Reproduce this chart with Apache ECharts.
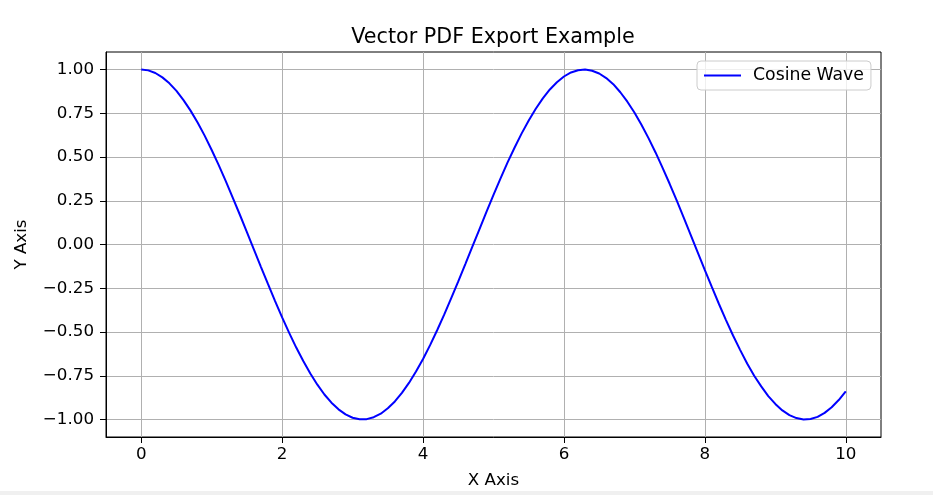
<!DOCTYPE html>
<html>
<head>
<meta charset="utf-8">
<script src="https://cdn.jsdelivr.net/npm/echarts@6/dist/echarts.min.js"></script>
<style>html,body{margin:0;padding:0;background:#fff}#c{width:933px;height:495px}</style>
</head>
<body>
<div id="c"></div>
<script>
var xValues = [0.0,0.1,0.2,0.3,0.4,0.5,0.6,0.7,0.8,0.9,1.0,1.1,1.2,1.3,1.4,1.5,1.6,1.7,1.8,1.9,2.0,2.1,2.2,2.3,2.4,2.5,2.6,2.7,2.8,2.9,3.0,3.1,3.2,3.3,3.4,3.5,3.6,3.7,3.8,3.9,4.0,4.1,4.2,4.3,4.4,4.5,4.6,4.7,4.8,4.9,5.0,5.1,5.2,5.3,5.4,5.5,5.6,5.7,5.8,5.9,6.0,6.1,6.2,6.3,6.4,6.5,6.6,6.7,6.8,6.9,7.0,7.1,7.2,7.3,7.4,7.5,7.6,7.7,7.8,7.9,8.0,8.1,8.2,8.3,8.4,8.5,8.6,8.7,8.8,8.9,9.0,9.1,9.2,9.3,9.4,9.5,9.6,9.7,9.8,9.9,10.0];
var cosineWave = [1.000,0.995,0.980,0.955,0.921,0.878,0.825,0.765,0.697,0.622,0.540,0.454,0.362,0.267,0.170,0.071,-0.029,-0.129,-0.227,-0.323,-0.416,-0.505,-0.589,-0.666,-0.737,-0.801,-0.857,-0.904,-0.942,-0.971,-0.990,-0.999,-0.998,-0.987,-0.967,-0.936,-0.897,-0.848,-0.791,-0.726,-0.654,-0.575,-0.490,-0.401,-0.307,-0.211,-0.112,-0.012,0.087,0.187,0.284,0.378,0.469,0.554,0.635,0.709,0.776,0.835,0.886,0.927,0.960,0.983,0.996,1.000,0.993,0.977,0.951,0.916,0.870,0.816,0.754,0.684,0.608,0.526,0.438,0.347,0.252,0.154,0.054,-0.046,-0.146,-0.244,-0.340,-0.432,-0.520,-0.602,-0.680,-0.750,-0.811,-0.866,-0.911,-0.948,-0.975,-0.992,-1.000,-0.997,-0.985,-0.962,-0.930,-0.889,-0.839];
var xTicks = [0,2,4,6,8,10];
var yTicks = [-1.00,-0.75,-0.50,-0.25,0.00,0.25,0.50,0.75,1.00];

var font = 'DejaVu Sans';
var data = xValues.map(function(x,i){return [x,cosineWave[i]];});

var chart = echarts.init(document.getElementById('c'), null, {renderer:'canvas'});
chart.setOption({
  animation:false,
  backgroundColor:'#fff',
  title:{text:'Vector PDF Export Example',left:488,top:22,textAlign:'center',
    textStyle:{fontFamily:font,fontSize:20.7,fontWeight:'normal',color:'#000'}},
  legend:{left:697,top:61,itemWidth:37,itemHeight:2,icon:'rect',
    padding:[6,7,6,7],borderColor:'#cccccc',borderWidth:1,borderRadius:4,
    backgroundColor:'rgba(255,255,255,0.8)',
    textStyle:{fontFamily:font,fontSize:17.3,color:'#000',padding:[0,0,0,7]},
    data:['Cosine Wave']},
  grid:{left:106,right:52,top:52,bottom:58,show:true,borderColor:'#000',borderWidth:1,containLabel:false},
  graphic:[{type:'rect',left:0,top:491,shape:{width:933,height:4},style:{fill:'#f0f0f0'},silent:true}],
  xAxis:{type:'value',min:-0.5,max:10.5,interval:2,
    name:'X Axis',nameLocation:'middle',nameGap:35,
    nameTextStyle:{fontFamily:font,fontSize:16.7,color:'#000'},
    axisLine:{show:true,onZero:false,lineStyle:{color:'#000',width:1}},
    axisTick:{show:true,length:6,lineStyle:{color:'#000'},customValues:xTicks},
    axisLabel:{fontFamily:font,fontSize:16.7,color:'#000',margin:9,customValues:xTicks,
      formatter:function(v){return String(v);}},
    splitLine:{show:true,lineStyle:{color:'#b0b0b0',width:1}}},
  yAxis:{type:'value',min:-1.1,max:1.1,interval:0.25,
    name:'Y Axis',nameLocation:'middle',nameGap:76,nameRotate:90,
    nameTextStyle:{fontFamily:font,fontSize:16.7,color:'#000'},
    axisLine:{show:true,onZero:false,lineStyle:{color:'#000',width:1}},
    axisTick:{show:true,length:6,lineStyle:{color:'#000'},customValues:yTicks},
    axisLabel:{fontFamily:font,fontSize:16.7,color:'#000',margin:12,customValues:yTicks,
      formatter:function(v){var s=Math.abs(v).toFixed(2);return (v< -1e-9?'\u2212':'')+s;}},
    splitLine:{show:true,lineStyle:{color:'#b0b0b0',width:1}}},
  series:[{name:'Cosine Wave',type:'line',data:data,smooth:false,showSymbol:false,
    lineStyle:{color:'#0000ff',width:2},itemStyle:{color:'#0000ff'}}]
});
</script>
</body>
</html>
